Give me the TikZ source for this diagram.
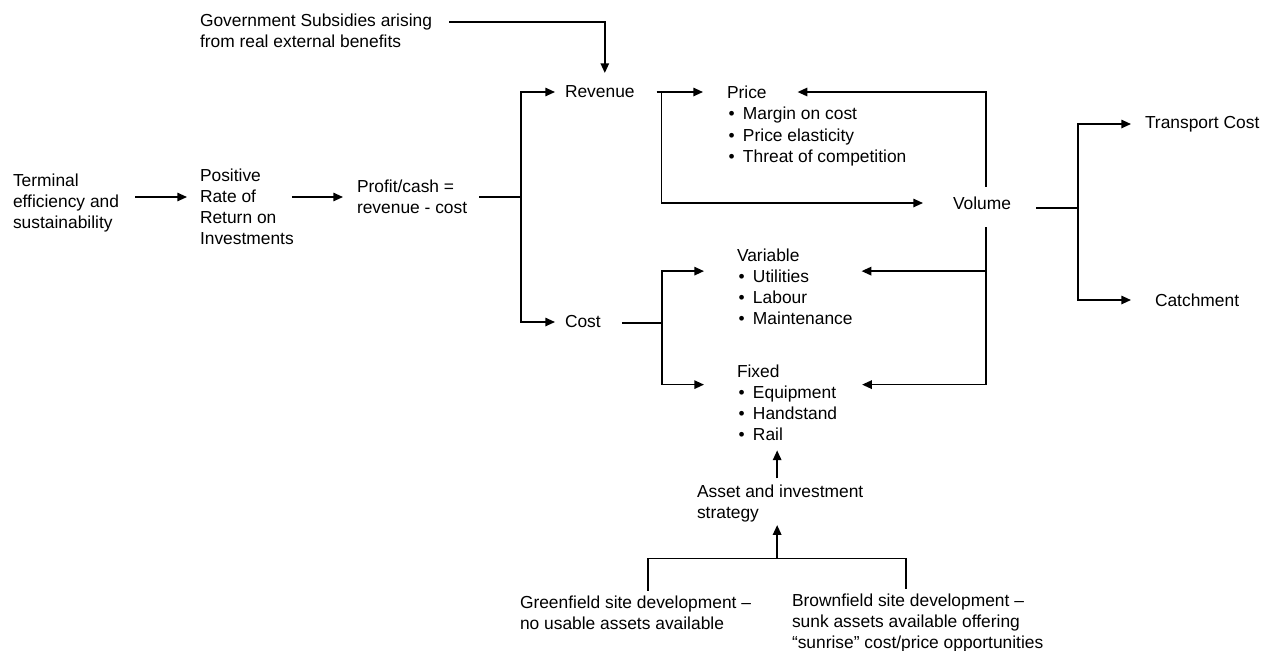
\documentclass[tikz,border=0pt]{standalone}
\usepackage{fontspec}
\setmainfont{Liberation Sans}
\usetikzlibrary{arrows.meta, calc}

\newcommand{\bulitem}[1]{\makebox[0.32cm][l]{\hspace{0.03cm}\textbullet}#1}

\begin{document}
\begin{tikzpicture}[x=0.02cm, y=-0.02cm, font=\fontsize{9.9}{11.95}\selectfont]

  \tikzset{
    lbl/.style={inner sep=0pt, outer sep=0pt, align=left, anchor=west},
    arr/.style={-{Triangle[length=5.5pt, width=4.8pt]}, line width=0.85pt},
    link/.style={line width=0.6pt},
    trunk/.style={line width=0.85pt}
  }

  \useasboundingbox (0,0) rectangle (1272,650);

  % left chain
  \node[lbl] (gov) at (200,31) {Government Subsidies arising\\from real external benefits};
  \node[lbl] (terminal) at (13,203) {Terminal\\efficiency and\\sustainability};
  \node[lbl] (ror) at (200,207) {Positive\\Rate of\\Return on\\Investments};
  \node[lbl] (profit) at (357,197) {Profit/cash =\\revenue - cost};
  \node[lbl] (revenue) at (565,92) {Revenue};
  \node[lbl] (cost) at (565,322) {Cost};

  % price, cost items, volume
  \node[lbl] (price) at (727,92) {Price};
  \node[lbl, font=\fontsize{9.9}{12.5}\selectfont] (pricelist) at (727,136.5)
    {\bulitem{Margin on cost}\\\bulitem{Price elasticity}\\\bulitem{Threat of competition}};
  \node[lbl] (variable) at (737,287)
    {Variable\\\bulitem{Utilities}\\\bulitem{Labour}\\\bulitem{Maintenance}};
  \node[lbl] (fixed) at (737,402.5)
    {Fixed\\\bulitem{Equipment}\\\bulitem{Handstand}\\\bulitem{Rail}};
  \node[lbl] (volume) at (953,203) {Volume};
  \node[lbl] (transport) at (1145,124) {Transport Cost};
  \node[lbl] (catchment) at (1155,300) {Catchment};

  % asset strategy
  \node[lbl] (asset) at (697,503) {Asset and investment\\strategy};
  \node[lbl] (green) at (520,612.5) {Greenfield site development --\\no usable assets available};
  \node[lbl] (brown) at (792,623)
    {Brownfield site development --\\sunk assets available offering\\``sunrise'' cost/price opportunities};

  \coordinate (row) at (0,197);
  \coordinate (split1) at (521,197);
  \coordinate (split2) at ($(revenue.east)+(27,0)$);

  % main chain arrows
  \draw[arr, shorten >=0.26cm] (terminal.east |- row) ++(16,0) -- (ror.west |- row);
  \draw[arr, shorten >=0.28cm] (ror.east |- row) ++(-2,0) -- (profit.west |- row);
  \draw[link] (profit.east |- row) ++(12,0) -- (split1);
  \draw[arr, shorten >=0.2cm] (split1) |- (revenue.west);
  \draw[arr, shorten >=0.2cm] (split1) |- (cost.west);
  \draw[arr, shorten >=0.26cm] (gov.east) ++(17,-9) -| ($(revenue.north)+(5,0)$);

  % revenue side
  \draw[arr, shorten >=0.48cm] (revenue.east) ++(22,0) -- (price.west);
  \draw[arr, shorten >=0.6cm] (split2) |- (volume.west);
  \draw[arr, shorten >=0.62cm] (volume.north) ++(4,-10) |- (price.east);

  % cost side
  \draw[link] (cost.east) ++(21,1) -- ++(40,0) coordinate (split3);
  \draw[arr] (split3) |- ($(variable.north west)+(-33,22)$);
  \draw[arr] (split3) |- ($(fixed.north west)+(-33,20)$);
  \draw[arr] (volume.south) ++(4,18) |- ($(variable.north east)+(9,22)$);
  \draw[arr] (volume.south) ++(4,18) |- ($(fixed.north east)+(25,20)$);

  % volume drivers
  \draw[link] (volume.east) ++(25,5) -- ++(42,0) coordinate (split4);
  \draw[arr, shorten >=0.28cm] (split4) |- (transport.west);
  \draw[arr, shorten >=0.48cm] (split4) |- (catchment.west);

  % asset strategy arrows
  \coordinate (assettop) at ($(asset.north)+(-3,0)$);
  \coordinate (gtop) at ($(green.north west)+(128,-5)$);
  \coordinate (btop) at ($(brown.north west)+(114,-5)$);
  \coordinate (bar) at ($(gtop)+(0,-32)$);
  \draw[arr, shorten <=0.12cm, shorten >=0.2cm] (assettop) -- (assettop |- fixed.south);
  \draw[trunk] (gtop) |- (bar -| btop) -- (btop);
  \draw[arr, shorten >=0.07cm] (assettop |- bar) -- (assettop |- asset.south);

\end{tikzpicture}
\end{document}
